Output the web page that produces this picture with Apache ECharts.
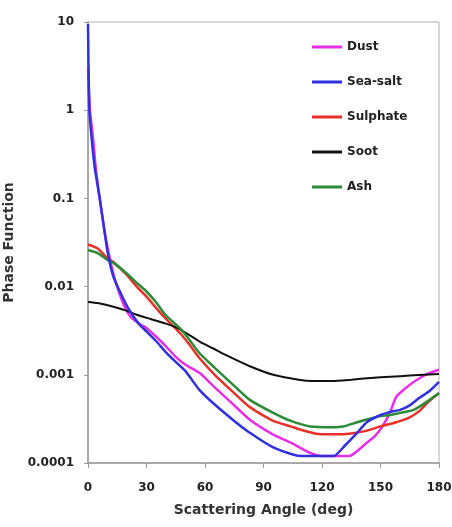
<!DOCTYPE html>
<html>
<head>
<meta charset="utf-8">
<script src="https://cdn.jsdelivr.net/npm/echarts@6/dist/echarts.min.js"></script>
<style>
  html, body { margin: 0; padding: 0; background: #fff; }
  #chart { width: 452px; height: 527px; }
</style>
</head>
<body>
<div id="chart"></div>
<script>
// series names
const seriesNames = ['Dust', 'Sea-salt', 'Sulphate', 'Soot', 'Ash'];

// [angle, phase function]
const dust = [
  [0, 3], [1, 1], [2.5, 0.5], [4, 0.22], [6, 0.1], [8, 0.05], [10, 0.028],
  [13, 0.014], [16, 0.0085], [19, 0.0058], [22, 0.0045], [25, 0.004], [27, 0.0037],
  [30, 0.0034], [35, 0.0027], [40, 0.0021], [45, 0.0016], [50, 0.0013], [57, 0.00106],
  [65, 0.00072], [75, 0.00045], [83, 0.00031], [95, 0.00021], [104, 0.00017],
  [114, 0.00013], [120, 0.00012], [134, 0.00012], [143, 0.00017], [147, 0.0002],
  [151, 0.00026], [155, 0.00038], [158, 0.00056], [162, 0.00068], [167, 0.00083],
  [173, 0.001], [180, 0.00114]
];
const seaSalt = [
  [0, 9.5], [0.7, 1.0], [2, 0.45], [3.5, 0.22], [6, 0.1], [8, 0.05], [10, 0.025],
  [13, 0.013], [17, 0.0082], [21, 0.0055], [26, 0.0038], [30, 0.0031], [35, 0.0024],
  [40, 0.0018], [45, 0.0014], [50, 0.0011], [57, 0.00068], [65, 0.00046], [75, 0.0003],
  [83, 0.00022], [95, 0.00015], [105, 0.000125], [110, 0.00012], [120, 0.00012],
  [126, 0.00012], [132, 0.00016], [138, 0.00022], [143, 0.00029], [150, 0.00035],
  [155, 0.00038], [160, 0.0004], [165, 0.00045], [170, 0.00055], [175, 0.00065],
  [180, 0.00083]
];
const sulphate = [
  [0, 0.03], [5, 0.027], [10, 0.021], [13, 0.019], [20, 0.0135], [25, 0.01],
  [30, 0.0077], [35, 0.0057], [40, 0.0043], [47, 0.003], [52, 0.0022], [57, 0.00156],
  [65, 0.001], [75, 0.00062], [83, 0.00043], [95, 0.0003], [104, 0.00026],
  [110, 0.000235], [117, 0.000215], [125, 0.000212], [134, 0.000215], [142, 0.00023],
  [150, 0.00026], [158, 0.00029], [165, 0.00033], [170, 0.00039], [174, 0.00048],
  [180, 0.00062]
];
const soot = [
  [0, 0.0067], [5, 0.0065], [13, 0.0059], [20, 0.0053], [25, 0.0048], [32, 0.0043],
  [40, 0.0038], [47, 0.0033], [57, 0.0024], [64, 0.002], [70, 0.0017], [83, 0.00125],
  [95, 0.001], [108, 0.00088], [115, 0.00085], [125, 0.00085], [135, 0.00088],
  [145, 0.00092], [155, 0.00095], [165, 0.00098], [180, 0.00102]
];
const ash = [
  [0, 0.026], [5, 0.024], [10, 0.02], [13, 0.0187], [20, 0.014], [25, 0.011],
  [30, 0.0088], [35, 0.0066], [40, 0.0047], [47, 0.0034], [52, 0.0025], [57, 0.00178],
  [65, 0.0012], [75, 0.00075], [83, 0.00052], [95, 0.00037], [104, 0.0003],
  [114, 0.00026], [125, 0.000255], [131, 0.00026], [138, 0.00029], [145, 0.00032],
  [150, 0.00034], [155, 0.00035], [160, 0.00037], [167, 0.0004], [173, 0.00048],
  [180, 0.00062]
];

const yTickLabels = ['0.0001', '0.001', '0.01', '0.1', '1', '10'];
const colors = ['#e52ee5', '#3030dd', '#e8302a', '#111111', '#2a8a35'];
const allData = [dust, seaSalt, sulphate, soot, ash];

const font = 'DejaVu Sans, sans-serif';
const chart = echarts.init(document.getElementById('chart'));

const option = {
  animation: false,
  grid: {
    left: 88, right: 13, top: 22, bottom: 64,
    outerBoundsMode: 'none',
    containLabel: false,
    show: true, borderColor: '#b0b0b0', borderWidth: 1
  },
  legend: {
    orient: 'vertical',
    left: 312,
    top: 41,
    padding: 0,
    itemWidth: 30,
    itemHeight: 3,
    itemGap: 23,
    icon: 'rect',
    data: seriesNames,
    textStyle: { fontFamily: font, fontSize: 12, fontWeight: 'bold', color: '#222' }
  },
  xAxis: {
    type: 'value',
    min: 0, max: 180, interval: 30,
    name: 'Scattering Angle (deg)',
    nameLocation: 'middle',
    nameGap: 40,
    nameTextStyle: { fontFamily: font, fontSize: 14, fontWeight: 'bold', color: '#333' },
    axisLine: { lineStyle: { color: '#999', width: 1.5 } },
    axisTick: { length: 5, lineStyle: { color: '#999' } },
    axisLabel: { fontFamily: font, fontSize: 12, fontWeight: 'bold', color: '#222', margin: 19 },
    splitLine: { show: false }
  },
  yAxis: {
    type: 'log',
    logBase: 10,
    min: 0.0001, max: 10,
    name: 'Phase Function',
    nameLocation: 'middle',
    nameGap: 59,
    nameTextStyle: { fontFamily: font, fontSize: 14, fontWeight: 'bold', color: '#333' },
    axisLine: { show: true, lineStyle: { color: '#999', width: 1.5 } },
    axisTick: { show: true, length: 4, lineStyle: { color: '#999' } },
    axisLabel: {
      fontFamily: font, fontSize: 12, fontWeight: 'bold', color: '#222', margin: 14,
      formatter: v => yTickLabels[Math.round(Math.log10(v)) + 4]
    },
    splitLine: { show: false }
  },
  series: seriesNames.map((name, i) => ({
    name: name,
    type: 'line',
    data: allData[i],
    showSymbol: false,
    smooth: 0.2,
    color: colors[i],
    lineStyle: { width: i === 3 ? 2 : 2.5, color: colors[i] },
    z: i === 1 ? 3 : 2
  }))
};
chart.setOption(option);
</script>
</body>
</html>
